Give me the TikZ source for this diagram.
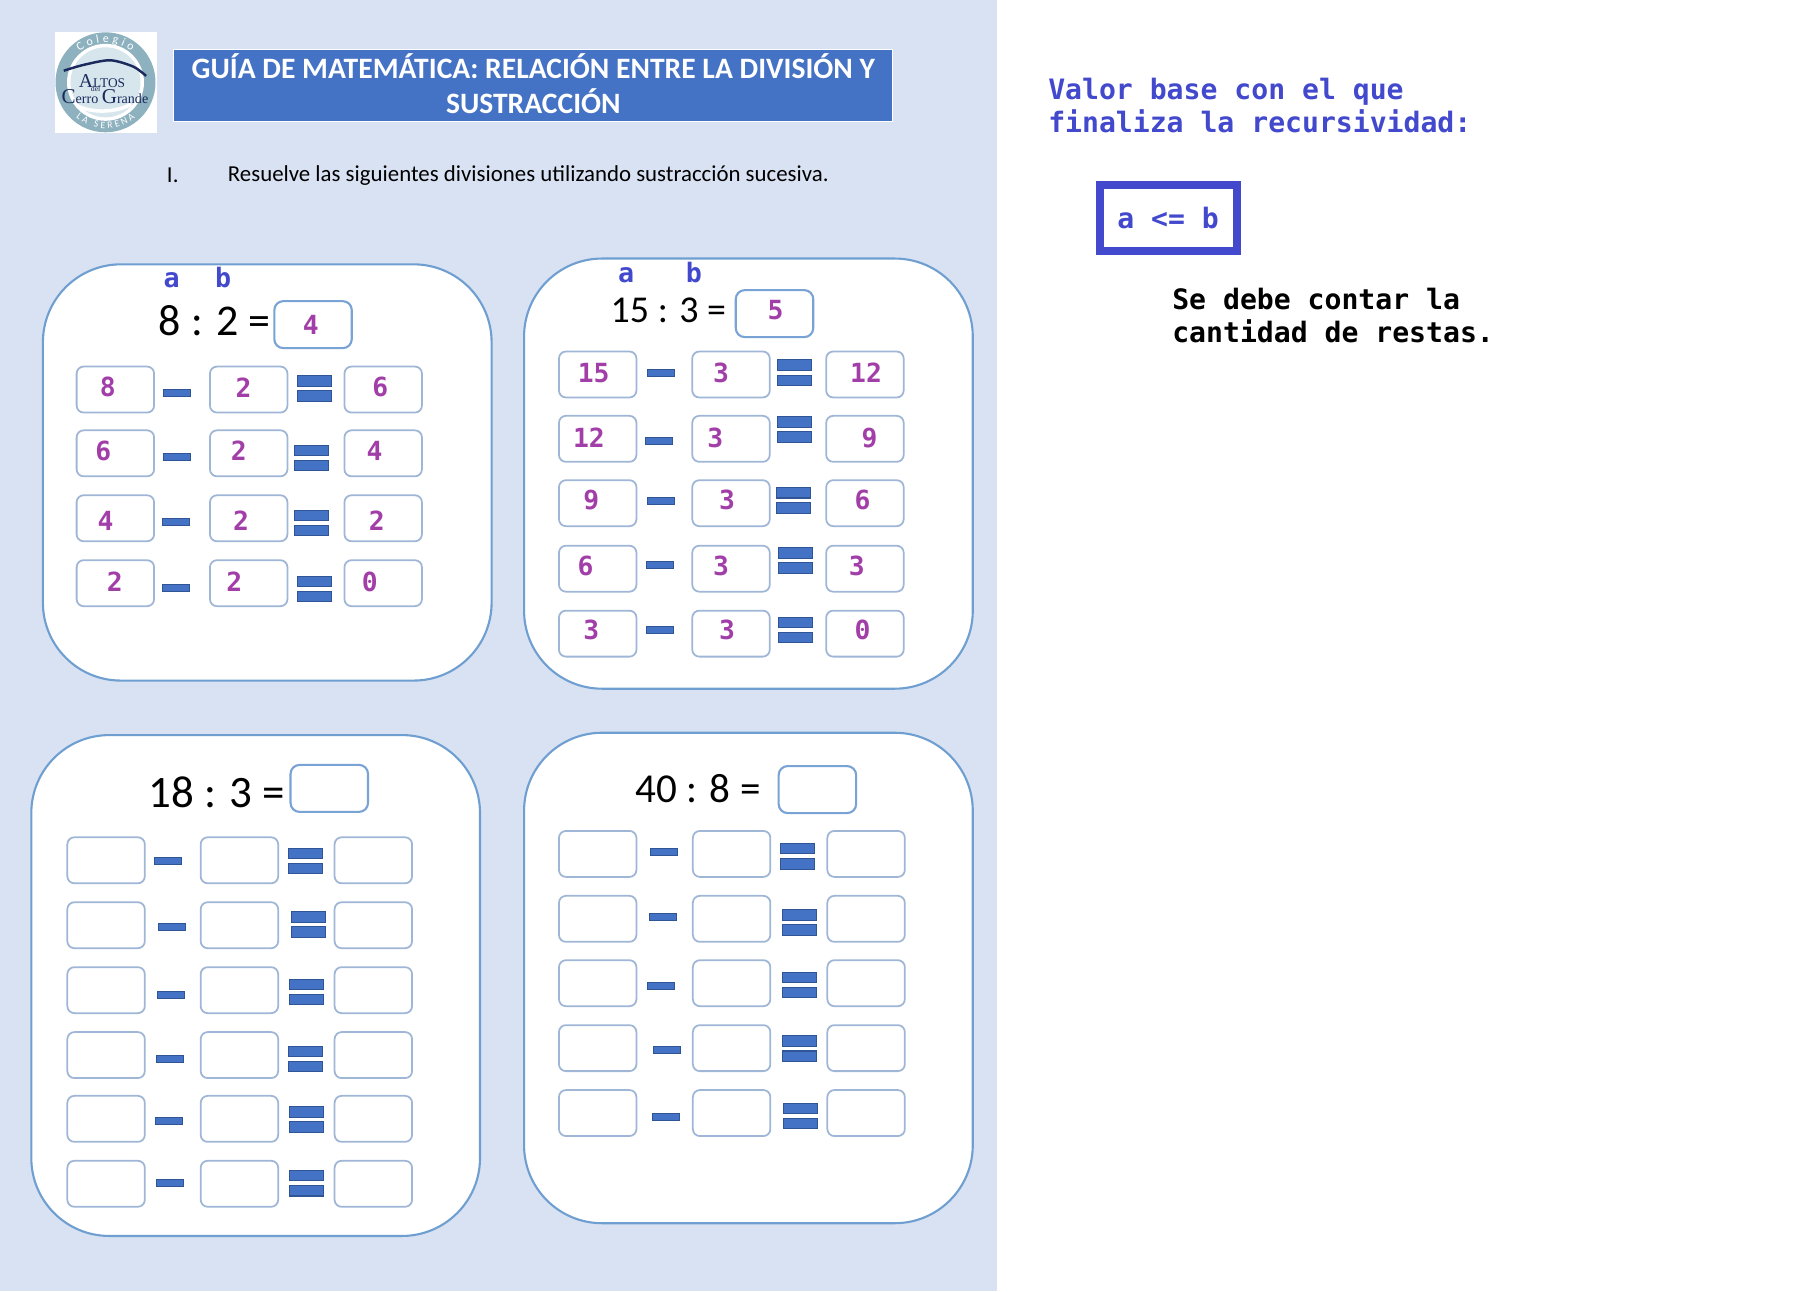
\documentclass[tikz,border=0pt]{standalone}
\usepackage{fontspec}
\setmainfont{Carlito}
\setmonofont{DejaVu Sans Mono}
\newfontfamily\logofont{Liberation Serif}
\usetikzlibrary{decorations.text}

\definecolor{pagebg}{HTML}{D9E2F3}
\definecolor{bannerblue}{HTML}{4472C4}
\definecolor{barline}{HTML}{2F5597}
\definecolor{cardline}{HTML}{6F9FD0}
\definecolor{boxline}{HTML}{9FB6D6}
\definecolor{ansline}{HTML}{79A3D4}
\definecolor{digitpurple}{HTML}{A23EA8}
\definecolor{notesblue}{HTML}{4349CC}
\definecolor{logoring}{HTML}{8DB1BE}
\definecolor{logoinner}{HTML}{D7E6EC}
\definecolor{logonavy}{HTML}{1A2A5C}

\tikzset{
  card/.style={draw=cardline, fill=white, line width=0.6pt, rounded corners=0.78cm},
  box/.style={draw=boxline, fill=white, line width=0.5pt, rounded corners=0.07cm, minimum width=0.775cm, minimum height=0.46cm, inner sep=0pt},
  ansbox/.style={box, draw=ansline, line width=0.6pt, rounded corners=0.09cm, minimum height=0.47cm},
  minusbar/.style={draw=barline, fill=bannerblue, line width=0.3pt, minimum width=0.27cm, minimum height=0.07cm, inner sep=0pt},
  equalbar/.style={draw=barline, fill=bannerblue, line width=0.3pt, minimum width=0.34cm, minimum height=0.105cm, inner sep=0pt},
  digit/.style={text=digitpurple, inner sep=0pt, font=\ttfamily\bfseries\fontsize{7.5}{9}\selectfont},
  varlabel/.style={text=notesblue, inner sep=0pt, anchor=base, font=\ttfamily\bfseries\fontsize{7.6}{9}\selectfont},
  notes/.style={anchor=west, align=left, inner sep=0pt, font=\ttfamily\bfseries\fontsize{8}{9.45}\selectfont},
  sumtext/.style={text=black, inner sep=0pt}
}

\begin{document}
\begin{tikzpicture}[x=0.011594cm, y=-0.011594cm]
  \useasboundingbox (0,0) rectangle (1568,1113.5);

  % page backgrounds
  \fill[white] (0,0) rectangle (1568,1113.5);
  \fill[pagebg] (0,0) rectangle (860,1113.5);

  % logo
  \fill[white] (47.5,27.5) rectangle (135,115);
  \fill[logoring] (91,71) circle (0.5cm);
  \fill[white] (91,71) circle (0.385cm);
  \fill[logoinner] (91,71) circle (0.35cm);
  \draw[white, line width=1pt] (66,91) .. controls (80,98) and (100,97) .. (113,90);
  \draw[logonavy, line width=0.7pt] plot[smooth] coordinates {(55,61) (72,56) (95,52) (115,57.5) (126,65.5)};
  \node[text=logonavy, inner sep=0pt, font=\logofont\fontsize{3.8}{6}\selectfont] (logoaltos) at (88,69.5) {{\fontsize{5.6}{6}\selectfont A}LTOS};
  \node[text=logonavy, inner sep=0pt, font=\logofont\fontsize{2.2}{3}\selectfont] (logodel) at (82.5,76.5) {del};
  \node[text=logonavy, inner sep=0pt, font=\logofont\fontsize{4}{6}\selectfont] (logocerro) at (90.5,83.5) {{\fontsize{6}{6}\selectfont C}erro {\fontsize{6}{6}\selectfont G}rande};
  \path[decorate, decoration={text along path, text={|\fontsize{3.4}{4}\selectfont\color{white}|Colegio}, text align={fit to path}}]
    (91,71) ++(130:0.4cm) arc[start angle=130, end angle=50, radius=0.4cm];
  \path[decorate, decoration={text along path, text={|\fontsize{2.8}{4}\selectfont\color{white}|LA SERENA}, text align={fit to path}}]
    (91,71) ++(230:0.46cm) arc[start angle=230, end angle=310, radius=0.46cm];

  % title banner
  \node[draw=white, fill=bannerblue, line width=0.3pt, minimum width=7.19cm, minimum height=0.72cm, inner sep=0pt] (banner) at (460,74) {};
  \node[text=white, align=center, inner sep=0pt, font=\bfseries\fontsize{8.42}{10}\selectfont] (title) at (460,72.5)
    {GUÍA DE MATEMÁTICA: RELACIÓN ENTRE LA DIVISIÓN Y\\SUSTRACCIÓN};

  % instruction
  \node[inner sep=0pt, font=\fontsize{6.5}{8}\selectfont] (itemnum) at (149,151) {I.};
  \node[anchor=west, inner sep=0pt, font=\fontsize{6.5}{8}\selectfont] (itemtext) at (196,151) {Resuelve las siguientes divisiones utilizando sustracción sucesiva.};

  % the four cards
  \draw[card] (37,228) rectangle (424,587);
  \draw[card] (452,223) rectangle (839,594);
  \draw[card] (27,634) rectangle (414,1066);
  \draw[card] (452,632) rectangle (839,1055);

  % card 1, worked out
  \node[varlabel] (a1) at (148,248) {a};
  \node[varlabel] (b1) at (192.5,248) {b};
  \node[sumtext, font=\fontsize{12.5}{14}\selectfont] (sum1) at (185,277) {8 : 2 =};
  \node[ansbox] (ans1) at (270,280) {};
  \node[digit] (res1) at (268,280) {4};
  \foreach \r/\y in {1/336,2/391,3/447,4/503} {
    \node[box] (c1a\r) at (99.5,\y) {};
    \node[box] (c1b\r) at (214.5,\y) {};
    \node[box] (c1c\r) at (330.5,\y) {};
  }
  \foreach \x/\y [count=\r] in {153/339,153/394,152/450,152/507}
    \node[minusbar] (c1m\r) at (\x,\y) {};
  \foreach \x/\y [count=\r] in {271/335,269/395,269/451,271/508} {
    \node[equalbar] (c1e\r) at (\x,\y-6.5) {};
    \node[equalbar] (c1f\r) at (\x,\y+6.5) {};
  }
  \foreach \x/\y/\val [count=\r] in {93/334/8,210/334/2,328/334/6,89/389/6,206/389/2,323/389/4,91/449/4,208/449/2,325/449/2,99/502/2,202/502/2,319/502/0}
    \node[digit] (c1d\r) at (\x,\y) {\val};

  % card 2, worked out
  \node[varlabel] (a2) at (540,244) {a};
  \node[varlabel] (b2) at (598.5,244) {b};
  \node[sumtext, font=\fontsize{10.8}{13}\selectfont] (sum2) at (576.5,268) {15 : 3 =};
  \node[ansbox] (ans2) at (668,270.5) {};
  \node[digit] (res2) at (669,267.5) {5};
  \foreach \r/\y in {1/323,2/378.5,3/434,4/490.5,5/546.5} {
    \node[box] (c2a\r) at (515.5,\y) {};
    \node[box] (c2b\r) at (630.5,\y) {};
    \node[box] (c2c\r) at (746,\y) {};
  }
  \foreach \x/\y [count=\r] in {570/322,568/380,570/432,569/487,569/543}
    \node[minusbar] (c2m\r) at (\x,\y) {};
  \foreach \x/\y [count=\r] in {685.5/321.5,685.5/370.5,684.5/431.5,686.5/483.5,686.5/543.5} {
    \node[equalbar] (c2e\r) at (\x,\y-6.5) {};
    \node[equalbar] (c2f\r) at (\x,\y+6.5) {};
  }
  \foreach \x/\y/\val [count=\r] in {512/321.5/15,622/321.5/3,747/321.5/12,508/377.5/12,617/377.5/3,750/377.5/9,510/431.5/9,627/431.5/3,744/431.5/6,505/488.5/6,622/488.5/3,739/488.5/3,510/543.5/3,627/543.5/3,744/543.5/0}
    \node[digit] (c2d\r) at (\x,\y) {\val};

  % card 3, left empty
  \node[sumtext, font=\fontsize{12.8}{15}\selectfont] (sum3) at (187,683) {18 : 3 =};
  \node[ansbox] (ans3) at (284,680) {};
  \foreach \r/\y in {1/742,2/798,3/854,4/910,5/965,6/1021} {
    \node[box] (c3a\r) at (91.5,\y) {};
    \node[box] (c3b\r) at (206.5,\y) {};
    \node[box] (c3c\r) at (322,\y) {};
  }
  \foreach \x/\y [count=\r] in {144.5/742.5,148.5/799.5,147.5/858.5,146.5/913.5,145.5/966.5,146.5/1020.5}
    \node[minusbar] (c3m\r) at (\x,\y) {};
  \foreach \x/\y [count=\r] in {263.5/742.5,266/797.5,264.5/855.5,263.5/913.5,264.5/965.5,264.5/1020.5} {
    \node[equalbar] (c3e\r) at (\x,\y-6.5) {};
    \node[equalbar] (c3f\r) at (\x,\y+6.5) {};
  }

  % card 4, left empty
  \node[sumtext, font=\fontsize{11.7}{14}\selectfont] (sum4) at (602,680) {40 : 8 =};
  \node[ansbox] (ans4) at (705,681) {};
  \foreach \r/\y in {1/736.5,2/792.5,3/848,4/904,5/960} {
    \node[box] (c4a\r) at (515.5,\y) {};
    \node[box] (c4b\r) at (631,\y) {};
    \node[box] (c4c\r) at (747,\y) {};
  }
  \foreach \x/\y [count=\r] in {572.5/734.5,571.5/790.5,570.5/850.5,575.5/905.5,574.5/963.5}
    \node[minusbar] (c4m\r) at (\x,\y) {};
  \foreach \x/\y [count=\r] in {687.5/738.5,689.5/795.5,689.5/849.5,689.5/904.5,690.5/962.5} {
    \node[equalbar] (c4e\r) at (\x,\y-6.5) {};
    \node[equalbar] (c4f\r) at (\x,\y+6.5) {};
  }

  % notes on the right
  \node[notes, text=notesblue] (basenote) at (903.5,91) {Valor base con el que\\finaliza la recursividad:};
  \node[draw=notesblue, line width=0.08cm, minimum width=1.37cm, minimum height=0.66cm, inner sep=0pt, text=notesblue, font=\ttfamily\bfseries\fontsize{8}{9}\selectfont] (basecase) at (1007.5,188) {a <= b};
  \node[notes, text=black] (countnote) at (1010.5,272) {Se debe contar la\\cantidad de restas.};
\end{tikzpicture}
\end{document}
